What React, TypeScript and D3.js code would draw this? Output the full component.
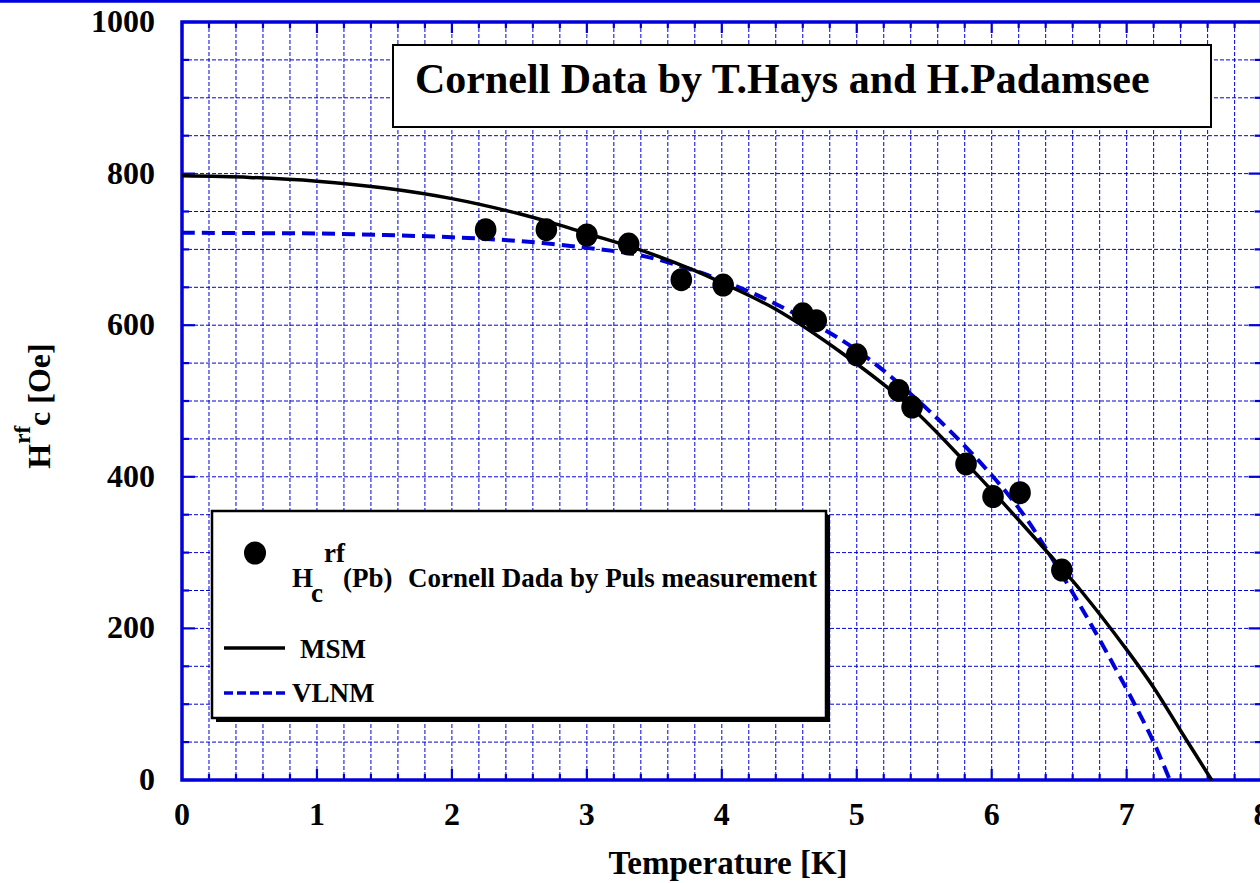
import React from "react";
import * as d3 from "d3";

// Measured data: Hc^rf (Pb), Cornell pulse measurement
const dataT = [2.25, 2.7, 3.0, 3.31, 3.7, 4.01, 4.6, 4.7, 5.0, 5.31, 5.41, 5.81, 6.01, 6.21, 6.52];
const dataH = [726, 726, 719, 707, 660, 653, 615, 606, 561, 514, 492, 417, 374, 379, 277];

// MSM curve
const msmT = [0, 0.5, 1, 1.5, 2, 2.5, 2.8, 3.0, 3.4, 3.8, 4.0, 4.4, 4.9, 5.4, 5.8, 6.0, 6.2, 6.5, 6.66, 7.0, 7.2, 7.4, 7.63];
const msmH = [797, 795, 790, 781, 767, 747, 732, 721, 699, 672, 656, 621, 562, 492, 420, 382, 343, 283, 250, 172, 122, 65, 0];

// VLNM curve
const vlnmT = [0, 0.5, 1, 1.5, 2, 2.5, 3.0, 3.4, 3.8, 4.1, 4.4, 4.9, 5.2, 5.5, 5.7, 5.92, 6.12, 6.26, 6.41, 6.61, 6.8, 7.05, 7.2, 7.32];
const vlnmH = [722, 721.5, 721, 719, 716, 711, 702, 692, 672, 652, 628, 579, 540, 493, 459, 418, 377, 344, 303, 244, 185, 103, 50, 0];

const xTickLabels = [0, 1, 2, 3, 4, 5, 6, 7, 8];
const yTickLabels = [0, 200, 400, 600, 800, 1000];

const titleText = "Cornell Data by T.Hays and H.Padamsee";
const legendDataText = "Cornell Dada by Puls measurement";
const xTitle = "Temperature [K]";

const BLUE = "#0000dd";
const FONT = "'Liberation Serif', 'Times New Roman', Times, serif";

export default function App() {
  const W = 1260, H = 883;
  const x = d3.scaleLinear().domain([0, 8]).range([182, 1261.6]);
  const y = d3.scaleLinear().domain([0, 1000]).range([780, 22]);

  const xMinor = d3.range(0, 40.5, 1).map((i) => i * 0.2);
  const yMinor = d3.range(0, 20.5, 1).map((i) => i * 50);

  const line = d3
    .line<[number, number]>()
    .x((d) => x(d[0]))
    .y((d) => y(d[1]))
    .curve(d3.curveCatmullRom.alpha(0.5));

  const msmPath = line(msmT.map((t, i) => [t, msmH[i]] as [number, number])) || "";
  const vlnmPath = line(vlnmT.map((t, i) => [t, vlnmH[i]] as [number, number])) || "";

  const x0 = x(0), x1 = x(8), y0 = y(0), y1 = y(1000);

  return (
    <svg width={W} height={H} style={{ position: "absolute", left: 0, top: 0, background: "#fff" }} fontFamily={FONT} fontWeight="bold">
      <rect x={0} y={0} width={W} height={H} fill="#fff" />
      {/* top blue border */}
      <line x1={0} x2={W} y1={1.2} y2={1.2} stroke={BLUE} strokeWidth={3} />

      {/* grid */}
      <g stroke={BLUE} strokeWidth={1} strokeDasharray="4,2">
        {xMinor.filter((t) => t > 0.01 && t < 7.99).map((t, i) => (
          <line key={"gx" + i} x1={x(t)} x2={x(t)} y1={y1} y2={y0} />
        ))}
        {yMinor.filter((v) => v > 1 && v < 999).map((v, i) => (
          <line key={"gy" + i} x1={x0} x2={x1} y1={y(v)} y2={y(v)} />
        ))}
      </g>

      {/* ticks */}
      <g stroke={BLUE} strokeWidth={2.2}>
        {xMinor.map((t, i) => {
          const major = Math.abs(t - Math.round(t)) < 1e-6;
          const L = major ? 11 : 6;
          return (
            <g key={"tx" + i}>
              <line x1={x(t)} x2={x(t)} y1={y0} y2={y0 - L} />
              <line x1={x(t)} x2={x(t)} y1={y1} y2={y1 + L} />
            </g>
          );
        })}
        {yMinor.map((v, i) => {
          const major = v % 200 === 0;
          const L = major ? 13 : 7;
          return (
            <g key={"ty" + i}>
              <line x1={x0} x2={x0 + L} y1={y(v)} y2={y(v)} />
              <line x1={x1} x2={x1 - L} y1={y(v)} y2={y(v)} />
            </g>
          );
        })}
      </g>

      {/* frame */}
      <rect x={x0} y={y1} width={x1 - x0} height={y0 - y1} fill="none" stroke={BLUE} strokeWidth={3.5} />

      {/* curves */}
      <path d={vlnmPath} fill="none" stroke={BLUE} strokeWidth={4} strokeDasharray="13,7" />
      <path d={msmPath} fill="none" stroke="#000" strokeWidth={3.5} />

      {/* data points */}
      {dataT.map((t, i) => (
        <ellipse key={"p" + i} cx={x(t)} cy={y(dataH[i])} rx={10.8} ry={11.5} fill="#000" />
      ))}

      {/* title box */}
      <rect x={393} y={45} width={818} height={82} fill="#fff" stroke="#000" strokeWidth={2} />
      <text x={415} y={93} fontSize={42} fill="#000">{titleText}</text>

      {/* legend box */}
      <rect x={216} y={515} width={614} height={207} fill="#000" />
      <rect x={212} y={511} width={614} height={207} fill="#fff" stroke="#000" strokeWidth={2.5} />
      <ellipse cx={255} cy={553} rx={11} ry={11.5} fill="#000" />
      <text x={292} y={587} fontSize={27} fill="#000">H</text>
      <text x={324} y={562} fontSize={27} fill="#000">rf</text>
      <text x={311} y={602} fontSize={27} fill="#000">c</text>
      <text x={343} y={587} fontSize={27} fill="#000">(Pb)</text>
      <text x={408} y={587} fontSize={27} fill="#000">{legendDataText}</text>
      <line x1={224} x2={285} y1={648} y2={648} stroke="#000" strokeWidth={3.5} />
      <text x={300} y={658} fontSize={27} fill="#000">MSM</text>
      <line x1={224} x2={286} y1={693} y2={693} stroke={BLUE} strokeWidth={3.5} strokeDasharray="9,4" />
      <text x={292} y={702} fontSize={27} fill="#000">VLNM</text>

      {/* axis tick labels */}
      {xTickLabels.map((t) => (
        <text key={"xl" + t} x={x(t)} y={825} fontSize={32} textAnchor="middle" fill="#000">{t}</text>
      ))}
      {yTickLabels.map((v) => (
        <text key={"yl" + v} x={155} y={y(v) + 10} fontSize={32} textAnchor="end" fill="#000">{v}</text>
      ))}

      {/* axis titles */}
      <text x={728} y={874} fontSize={33} textAnchor="middle" fill="#000">{xTitle}</text>
      <text transform="translate(50,406) rotate(-90)" fontSize={32} textAnchor="middle" fill="#000">
        H<tspan fontSize={23} dy={-20}>rf</tspan><tspan dy={20}>c</tspan> [Oe]
      </text>
    </svg>
  );
}
